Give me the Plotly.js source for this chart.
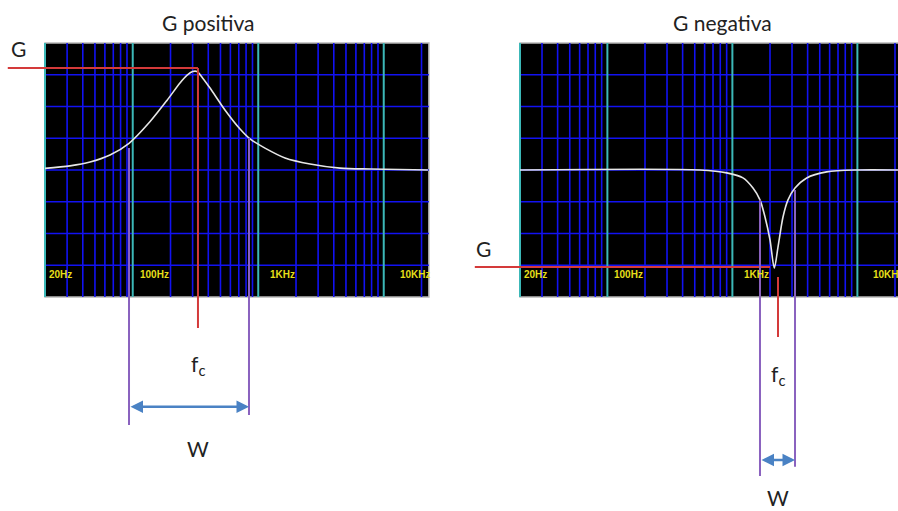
<!DOCTYPE html>
<html><head><meta charset="utf-8">
<script src="https://cdn.plot.ly/plotly-3.0.1.min.js"></script>
<style>html,body{margin:0;padding:0;background:#fff}#chart{width:898px;height:511px}</style>
</head><body><div id="chart"></div>
<script>
// ---- data ----
const titles = ['G positiva', 'G negativa'];
const tickLabels = ['20Hz', '100Hz', '1KHz', '10KHz'];
const tickFreqs = [20, 100, 1000, 10000];
const tickShift = [2, 5, 10, 14];
const gridDigits = [1, 2, 3, 4, 5, 6, 7, 8, 9];
const gridDecades = [10, 100, 1000, 10000];
const gridLevels = [1, 2, 3, 4, 5, 6, 7];

// G positiva curve (frequency Hz, level in grid divisions 0..8)
const posFreq = [20, 31.6, 45.7, 65.9, 93.4, 137, 188, 238, 270, 300, 325, 360, 413, 543, 716, 860, 1132, 1635, 2585, 4487, 7780, 22500];
const posGain = [4.05, 4.13, 4.25, 4.47, 4.84, 5.52, 6.20, 6.74, 6.98, 7.1, 7.1, 6.9, 6.58, 5.89, 5.29, 4.98, 4.69, 4.38, 4.19, 4.06, 4.03, 4.0];
// G negativa curve
const negFreq = [20, 551, 901, 1216, 1462, 1663, 1824, 2000, 2165, 2317, 2541, 2786, 3170, 3932, 5684, 9876, 21130];
const negGain = [4.0, 4.0, 3.91, 3.75, 3.43, 3.06, 2.52, 1.80, 0.91, 1.57, 2.52, 3.06, 3.43, 3.75, 3.94, 4.0, 4.0];

// annotation values
const posG = 7.21, posFc = 331, posW = [93.4, 844];
const negG = 0.945, negFc = 2317, negGEnd = 2000, negW = [1663, 3170];

// ---- helpers ----
const L = v => Math.log10(v);
const fMin = 20;
const panels = [
  {xa: 'x', ya: 'y', xr: [0.9424, 4.520], boxEnd: 22900, freq: posFreq, gain: posGain},
  {xa: 'x2', ya: 'y2', xr: [0.733, 4.325], boxEnd: 30000, freq: negFreq, gain: negGain}
];
const yr = [-6.74, 9.354];

const traces = panels.map(p => ({
  type: 'scatter', mode: 'lines', x: p.freq.map(L), y: p.gain,
  xaxis: p.xa, yaxis: p.ya, line: {color: '#e6e6e6', width: 1.6, shape: 'spline', smoothing: 0.8},
  hoverinfo: 'skip'
}));

const blue = {color: '#1212f2', width: 1.6};
const shapes = [];
const annotations = [];
panels.forEach((p, i) => {
  shapes.push({type: 'rect', xref: p.xa, yref: p.ya, x0: L(fMin), x1: L(p.boxEnd), y0: 0, y1: 8,
    fillcolor: '#000', line: {color: '#b8b8b8', width: 1.5}, layer: 'below'});
  gridDecades.forEach(d => gridDigits.forEach(k => {
    const f = d * k;
    if (f <= fMin || k === 1 || f > p.boxEnd) return;
    shapes.push({type: 'line', xref: p.xa, yref: p.ya, x0: L(f), x1: L(f), y0: 0, y1: 8, line: blue, layer: 'below'});
  }));
  gridLevels.forEach(g => shapes.push({type: 'line', xref: p.xa, yref: p.ya, x0: L(fMin), x1: L(p.boxEnd), y0: g, y1: g,
    line: blue, layer: 'below'}));
  tickFreqs.forEach(f => shapes.push({type: 'line', xref: p.xa, yref: p.ya, x0: L(f), x1: L(f), y0: 0, y1: 8,
    line: {color: '#3cb8b8', width: 2}, layer: 'below'}));
  tickFreqs.forEach((f, j) => annotations.push({xref: p.xa, yref: p.ya, x: L(f), y: 0.72, xshift: tickShift[j],
    xanchor: 'left', yanchor: 'middle', showarrow: false, text: tickLabels[j],
    font: {family: 'Liberation Sans', size: 10, color: '#e6df1a', weight: 'bold'}}));
  annotations.push({xref: 'paper', yref: 'paper', x: i === 0 ? 208 / 898 : 722 / 898, y: 1 - 22 / 511,
    xanchor: 'center', yanchor: 'middle', showarrow: false, text: titles[i],
    font: {family: 'Lato', size: 21, color: '#222'}});
});

const red = {color: '#d43a3a', width: 2};
const purple = {color: '#8a62bf', width: 2};
const arrowCol = '#4a82c4';
const labFont = {family: 'Lato', size: 21, color: '#222'};

// --- G positiva annotations
shapes.push({type: 'line', xref: 'x', yref: 'y', x0: L(10.1), x1: L(posFc), y0: posG, y1: posG, line: red});
shapes.push({type: 'line', xref: 'x', yref: 'y', x0: L(posFc), x1: L(posFc), y0: posG, y1: -0.98, line: red});
shapes.push({type: 'line', xref: 'x', yref: 'y', x0: L(posW[0]), x1: L(posW[0]), y0: 4.69, y1: -4.03, line: purple});
shapes.push({type: 'line', xref: 'x', yref: 'y', x0: L(posW[1]), x1: L(posW[1]), y0: 5.01, y1: -3.72, line: purple});
annotations.push({xref: 'x', yref: 'y', axref: 'x', ayref: 'y', x: L(posW[1]), y: -3.46, ax: L(posW[0]), ay: -3.46,
  text: '', showarrow: true, arrowhead: 2, startarrowhead: 2, arrowside: 'end+start', arrowsize: 1, arrowwidth: 2.5, arrowcolor: arrowCol});
annotations.push({xref: 'x', yref: 'y', x: L(posFc), y: -2.14, text: 'f<sub>c</sub>', showarrow: false, font: labFont});
annotations.push({xref: 'x', yref: 'y', x: L(posFc), y: -4.76, text: 'W', showarrow: false, font: labFont});
annotations.push({xref: 'x', yref: 'y', x: 1.086, y: 7.84, text: 'G', showarrow: false, font: labFont});

// --- G negativa annotations
shapes.push({type: 'line', xref: 'x2', yref: 'y2', x0: L(8.7), x1: L(negGEnd), y0: negG, y1: negG, line: red});
shapes.push({type: 'line', xref: 'x2', yref: 'y2', x0: L(negFc), x1: L(negFc), y0: 0.63, y1: -1.26, line: red});
shapes.push({type: 'line', xref: 'x2', yref: 'y2', x0: L(negW[0]), x1: L(negW[0]), y0: 3.06, y1: -5.64, line: purple});
shapes.push({type: 'line', xref: 'x2', yref: 'y2', x0: L(negW[1]), x1: L(negW[1]), y0: 3.37, y1: -5.35, line: purple});
annotations.push({xref: 'x2', yref: 'y2', axref: 'x2', ayref: 'y2', x: L(negW[1]), y: -5.13, ax: L(negW[0]), ay: -5.13,
  text: '', showarrow: true, arrowhead: 2, startarrowhead: 2, arrowside: 'end+start', arrowsize: 1, arrowwidth: 2.5, arrowcolor: arrowCol});
annotations.push({xref: 'x2', yref: 'y2', x: L(negFc), y: -2.46, text: 'f<sub>c</sub>', showarrow: false, font: labFont});
annotations.push({xref: 'x2', yref: 'y2', x: L(negFc), y: -6.3, text: 'W', showarrow: false, font: labFont});
annotations.push({xref: 'x2', yref: 'y2', x: 1.005, y: 1.54, text: 'G', showarrow: false, font: labFont});

const ax = (dom, range, anchor) => ({domain: dom, range: range, anchor: anchor, showgrid: false, zeroline: false,
  showticklabels: false, ticks: '', showline: false, fixedrange: true});

const layout = {
  width: 898, height: 511, margin: {l: 0, r: 0, t: 0, b: 0},
  paper_bgcolor: '#fff', plot_bgcolor: 'rgba(0,0,0,0)', showlegend: false,
  xaxis: ax([0, 0.5], panels[0].xr, 'y'),
  yaxis: ax([0, 1], yr, 'x'),
  xaxis2: ax([0.5, 1], panels[1].xr, 'y2'),
  yaxis2: ax([0, 1], yr, 'x2'),
  shapes: shapes, annotations: annotations, hovermode: false
};
Plotly.newPlot('chart', traces, layout, {displayModeBar: false, staticPlot: true});
</script></body></html>
